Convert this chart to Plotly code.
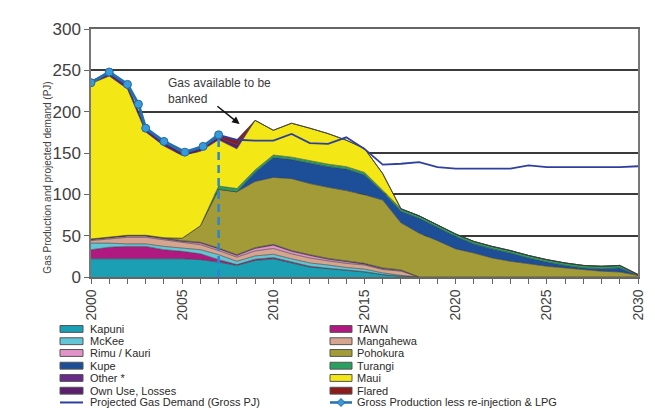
import plotly.graph_objects as go

# ---------------- data ----------------
years = list(range(2000, 2031))

kapuni    = [22, 22, 22, 22, 22, 22, 21, 18, 14, 20, 22, 17, 12, 10, 8, 6, 3, 1] + [0] * 13
tawn      = [11, 14, 15, 15, 11, 9, 7, 3, 1, 1.5, 1.5, 1, 1, 0.5, 0.5, 0.5, 0, 0] + [0] * 13
mckee     = [8, 5, 3, 3, 4, 4, 5, 6, 4, 4, 4, 4, 4, 4, 3, 3, 2, 1] + [0] * 13
mangahewa = [3, 5, 8, 8, 8, 7, 6, 5, 5, 6, 7, 6, 6, 5, 5, 5, 4, 5] + [0] * 13
rimu      = [1, 1, 1.5, 1.5, 1.5, 1, 2, 2, 2, 3, 4, 3, 3, 2, 2, 1, 1, 1] + [0] * 13
other     = [1] * 17 + [0.5] + [0] * 13
pohokura  = [0, 0, 0, 0, 0, 3, 20, 71, 76, 80, 81, 87, 86, 86, 85, 83, 82, 57, 53, 44,
             34, 29, 23, 19, 16, 13, 11, 9, 7, 6, 2]
kupe      = [0] * 9 + [11, 24, 23, 25, 25, 26, 24, 10, 14, 18, 16, 15, 11, 11, 10, 7, 5,
                       3, 2, 3, 5, 0]
turangi   = [0] * 7 + [4, 4, 3, 3, 3, 3, 3, 3, 3, 2] + [3] * 13 + [1]
maui      = [188, 195, 177, 125, 111, 100, 90, 56, 48, 60, 30, 41, 39, 37, 32, 29, 20] + [0] * 14
own_use   = [3, 4, 4, 4, 4, 3, 3, 3, 5] + [0] * 22
flared    = [0] * 7 + [2, 6] + [0] * 22

demand_years = list(range(2007, 2031))
demand = [172, 166, 165, 165, 173, 162, 161, 169, 155, 136, 137, 139, 133, 131, 131, 131,
          131, 135, 133, 133, 133, 133, 133, 134]

gross_years = [2000, 2001, 2002, 2002.6, 2003, 2004, 2005.15, 2006.15, 2007]
gross = [235, 248, 233, 209, 180, 164, 151, 158, 172]

banked_x = [2007, 2007]
banked_y = [0, 170]

tick_years = [2000, 2005, 2010, 2015, 2020, 2025, 2030]
tick_labels = ["2000", "2005", "2010", "2015", "2020", "2025", "2030"]
y_ticks = [0, 50, 100, 150, 200, 250, 300]

# stacked series, bottom to top
series = [
    ("Kapuni", kapuni, "#1a9fb4"),
    ("TAWN", tawn, "#b01a80"),
    ("McKee", mckee, "#63c6d6"),
    ("Mangahewa", mangahewa, "#d6a590"),
    ("Rimu / Kauri", rimu, "#e294c8"),
    ("Other *", other, "#6a2a8a"),
    ("Pohokura", pohokura, "#a39b38"),
    ("Kupe", kupe, "#1d4f99"),
    ("Turangi", turangi, "#27a060"),
    ("Maui", maui, "#f3e815"),
    ("Own Use, Losses", own_use, "#5b1f6e"),
    ("Flared", flared, "#8a1c1c"),
]
colors = {n: c for n, _, c in series}
DEMAND_COLOR = "#2f3f9f"
GROSS_LINE = "#2270b0"
GROSS_MARK = "#3a9ad8"
DASH_COLOR = "#2a86d0"

left_legend = ["Kapuni", "McKee", "Rimu / Kauri", "Kupe", "Other *", "Own Use, Losses",
               "Projected Gas Demand (Gross PJ)"]
right_legend = ["TAWN", "Mangahewa", "Pohokura", "Turangi", "Maui", "Flared",
                "Gross Production less re-injection & LPG"]

# ---------------- figure ----------------
W, H = 655, 408
ML, MR, MT, MB = 83, 25, 16, 139
PW, PH = W - ML - MR, H - MT - MB

fig = go.Figure()
for name, vals, col in series:
    fig.add_trace(go.Scatter(
        x=years, y=vals, name=name, stackgroup="one", mode="lines",
        line=dict(color="rgba(55,55,55,0.85)", width=0.7),
        fillcolor=col, hoverinfo="skip", showlegend=False))

fig.add_trace(go.Scatter(
    x=demand_years, y=demand, mode="lines", name="Projected Gas Demand (Gross PJ)",
    line=dict(color=DEMAND_COLOR, width=1.8), showlegend=False, hoverinfo="skip"))

fig.add_trace(go.Scatter(
    x=banked_x, y=banked_y, mode="lines",
    line=dict(color=DASH_COLOR, width=2.5, dash="8px,5px"), showlegend=False,
    hoverinfo="skip"))

fig.add_trace(go.Scatter(
    x=gross_years, y=gross, mode="lines+markers",
    name="Gross Production less re-injection & LPG",
    line=dict(color=GROSS_LINE, width=3),
    marker=dict(size=8, color=GROSS_MARK, line=dict(color="#1f6aa8", width=1)),
    showlegend=False, hoverinfo="skip"))

# ---------------- annotations ----------------
FONT = "Liberation Sans, Arial, sans-serif"
annotations = [
    dict(x=2004.1, y=246, xref="x", yref="y", text="Gas available to be<br>banked",
         showarrow=False, xanchor="left", yanchor="top", align="left",
         font=dict(family=FONT, size=12, color="#3a3a3a")),
    dict(x=2008.15, y=185, ax=2006.85, ay=208, xref="x", yref="y", axref="x", ayref="y",
         text="", showarrow=True, arrowhead=2, arrowsize=1, arrowwidth=1.5,
         arrowcolor="#111"),
    dict(x=-0.093, y=(269 - 168) / PH, xref="paper", yref="paper",
         text="Gas Production and projected demand (PJ)", textangle=-90,
         showarrow=False, font=dict(family=FONT, size=10, color="#404040")),
]

def px(xp):
    return (xp - ML) / PW

def py(yp):
    return (H - MB - yp) / PH

shapes = []
rows = [322, 334.5, 346.5, 359.5, 372, 385, 397]
cols = [(52, 75, 80, left_legend), (322, 344, 347, right_legend)]
for x0, x1, xt, names in cols:
    for yr, name in zip(rows, names):
        if name in colors:
            shapes.append(dict(type="rect", xref="paper", yref="paper",
                               x0=px(x0), x1=px(x1), y0=py(yr + 3.5), y1=py(yr - 3.5),
                               fillcolor=colors[name],
                               line=dict(color="#555", width=1)))
        elif name.startswith("Projected"):
            shapes.append(dict(type="line", xref="paper", yref="paper",
                               x0=px(x0), x1=px(x1), y0=py(yr), y1=py(yr),
                               line=dict(color=DEMAND_COLOR, width=2)))
        else:
            shapes.append(dict(type="line", xref="paper", yref="paper",
                               x0=px(x0), x1=px(x1), y0=py(yr), y1=py(yr),
                               line=dict(color=GROSS_LINE, width=2.5)))
            cx = (x0 + x1) / 2
            shapes.append(dict(type="path", xref="paper", yref="paper",
                               path=f"M {px(cx)},{py(yr - 4)} L {px(cx + 4)},{py(yr)} "
                                    f"L {px(cx)},{py(yr + 4)} L {px(cx - 4)},{py(yr)} Z",
                               fillcolor=GROSS_MARK, line=dict(color="#1f6aa8", width=1)))
        annotations.append(dict(x=px(xt), y=py(yr), xref="paper", yref="paper",
                                text=name, showarrow=False, xanchor="left",
                                yanchor="middle",
                                font=dict(family=FONT, size=11, color="#2a2a2a")))

fig.update_layout(
    width=W, height=H,
    margin=dict(l=ML, r=MR, t=MT, b=MB, pad=0),
    paper_bgcolor="white", plot_bgcolor="white",
    showlegend=False,
    annotations=annotations, shapes=shapes,
)
fig.update_xaxes(
    range=[2000, 2030], tickmode="array", tickvals=tick_years, ticktext=tick_labels,
    tickangle=-90, ticks="outside", ticklen=5, tickcolor="#666",
    minor=dict(ticks="outside", dtick=1, ticklen=5, tickcolor="#666"),
    showgrid=False, zeroline=False, showline=True, linecolor="#666", linewidth=1.5,
    mirror=True,
    tickfont=dict(family=FONT, size=14, color="#404040"),
)
fig.update_yaxes(
    range=[0, 300], tickmode="array", tickvals=y_ticks, ticks="outside", ticklen=5,
    tickcolor="#666", showgrid=True, gridcolor="#3a3a3a", gridwidth=1.5, zeroline=False,
    showline=True, linecolor="#777", linewidth=1.5, mirror=True,
    tickfont=dict(family=FONT, size=17, color="#404040"),
)

fig.write_html("out.html")
